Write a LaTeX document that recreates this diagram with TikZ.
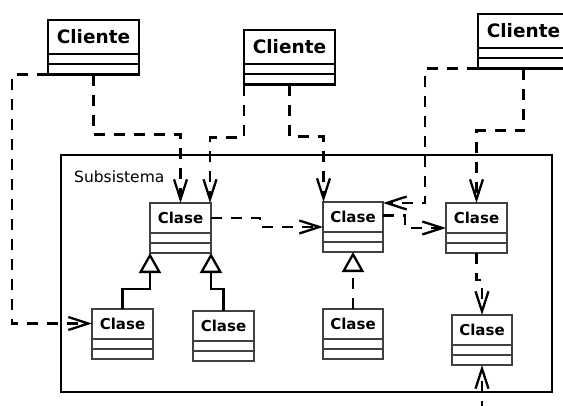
\documentclass[tikz,border=0pt]{standalone}
\usepackage{fontspec}
\setmainfont{DejaVu Sans}
\usetikzlibrary{arrows.meta}

\tikzset{
  clientebox/.style={draw=black, line width=2.3pt, inner sep=0pt, outer sep=0pt},
  clienterule/.style={draw=black, line width=2.3pt},
  clientetext/.style={font=\fontsize{18.5}{20}\selectfont\bfseries, inner sep=0pt},
  clasebox/.style={draw=black!75, line width=1.6pt, inner sep=0pt, outer sep=0pt},
  claserule/.style={draw=black!75, line width=1.6pt},
  clasetext/.style={font=\fontsize{15}{16}\selectfont\bfseries, inner sep=0pt},
  subsys/.style={draw=black, line width=2.3pt},
  dep/.style={line width=2.3pt, dash pattern=on 11pt off 9pt,
    -{Straight Barb[length=20pt,width=13pt]}},
  gen/.style={line width=2.3pt, -{Triangle[open,length=20pt,width=22pt]}},
  real/.style={gen, dash pattern=on 11pt off 9pt},
}

% UML class box: name, left x, top y, width, name compartment height,
% compartment height, style prefix, label
\newcommand\umlclass[8]{%
  \pgfmathsetmacro\umlh{#5+2*#6}%
  \node[#7box, anchor=north west, minimum width=#4pt, minimum height=\umlh pt] (#1) at (#2,#3) {};
  \draw[#7rule] ([yshift=-#5pt]#1.north west) -- ([yshift=-#5pt]#1.north east);
  \draw[#7rule] ([yshift={-(#5+#6)*1pt}]#1.north west) -- ([yshift={-(#5+#6)*1pt}]#1.north east);
  \node[#7text] at ([yshift={-#5*0.5pt}]#1.north) {#8};
}

\begin{document}
\begin{tikzpicture}[x=1pt,y=-1pt]
\useasboundingbox (0,0) rectangle (563,405);

% subsystem frame
\draw[subsys] (61,155) rectangle (552,392);
\node[anchor=base west, inner sep=0pt, font=\fontsize{15.5}{17}\selectfont] (lbl) at (74,182) {Subsistema};

% clients
\umlclass{c1}{48}{20}{91}{34}{10.25}{cliente}{Cliente}
\umlclass{c2}{244}{30}{91}{34}{10.25}{cliente}{Cliente}
\umlclass{c3}{478}{14}{91}{34}{10.25}{cliente}{Cliente}

% classes of the subsystem
\umlclass{k1}{150}{203}{61}{30}{10}{clase}{Clase}
\umlclass{k2}{323}{202}{60}{30}{10}{clase}{Clase}
\umlclass{k3}{446}{203}{61}{30}{10}{clase}{Clase}
\umlclass{k4}{92}{309}{61}{30}{10}{clase}{Clase}
\umlclass{k5}{193}{311}{61}{30}{10}{clase}{Clase}
\umlclass{k6}{323}{309}{60}{30}{10}{clase}{Clase}
\umlclass{k7}{452}{315}{60}{30}{10}{clase}{Clase}

\coordinate (below) at (482,412);

% dependencies
\draw[dep] (c1.south west) -- ++(-36,0) |- ([yshift=10.5pt]k4.west);
\draw[dep] (c1.south) -- ++(0,60) -| (k1.north);
\draw[dep] (c2.south west) -- ++(0,53) -| ([xshift=-1pt]k1.north east);
\draw[dep] (c2.south) -- ++(0,52) -| ([xshift=0.5pt]k2.north west);
\draw[dep] (c3.south west) -- ++(-53,0) |- ([yshift=-1pt]k2.north east);
\draw[dep] (c3.south) -- ++(0,62) -| (k3.north);
\draw[dep] ([yshift=10pt]k1.east) -- ++(49,0) |- (k2.west);
\draw[dep] ([yshift=11.5pt]k2.east) -- ++(22,0) |- (k3.west);
\draw[dep] (k3.south) -- ++(0,27) -| (k7.north);
\draw[dep] (below) -- (k7.south);

% generalisation and realisation
\draw[gen] (k4.north) -- ++(0,-20) -| (k1.south west);
\draw[gen] (k5.north) -- ++(0,-22) -| (k1.south east);
\draw[real] (k6.north) -- (k6.north |- k2.south);
\end{tikzpicture}
\end{document}
